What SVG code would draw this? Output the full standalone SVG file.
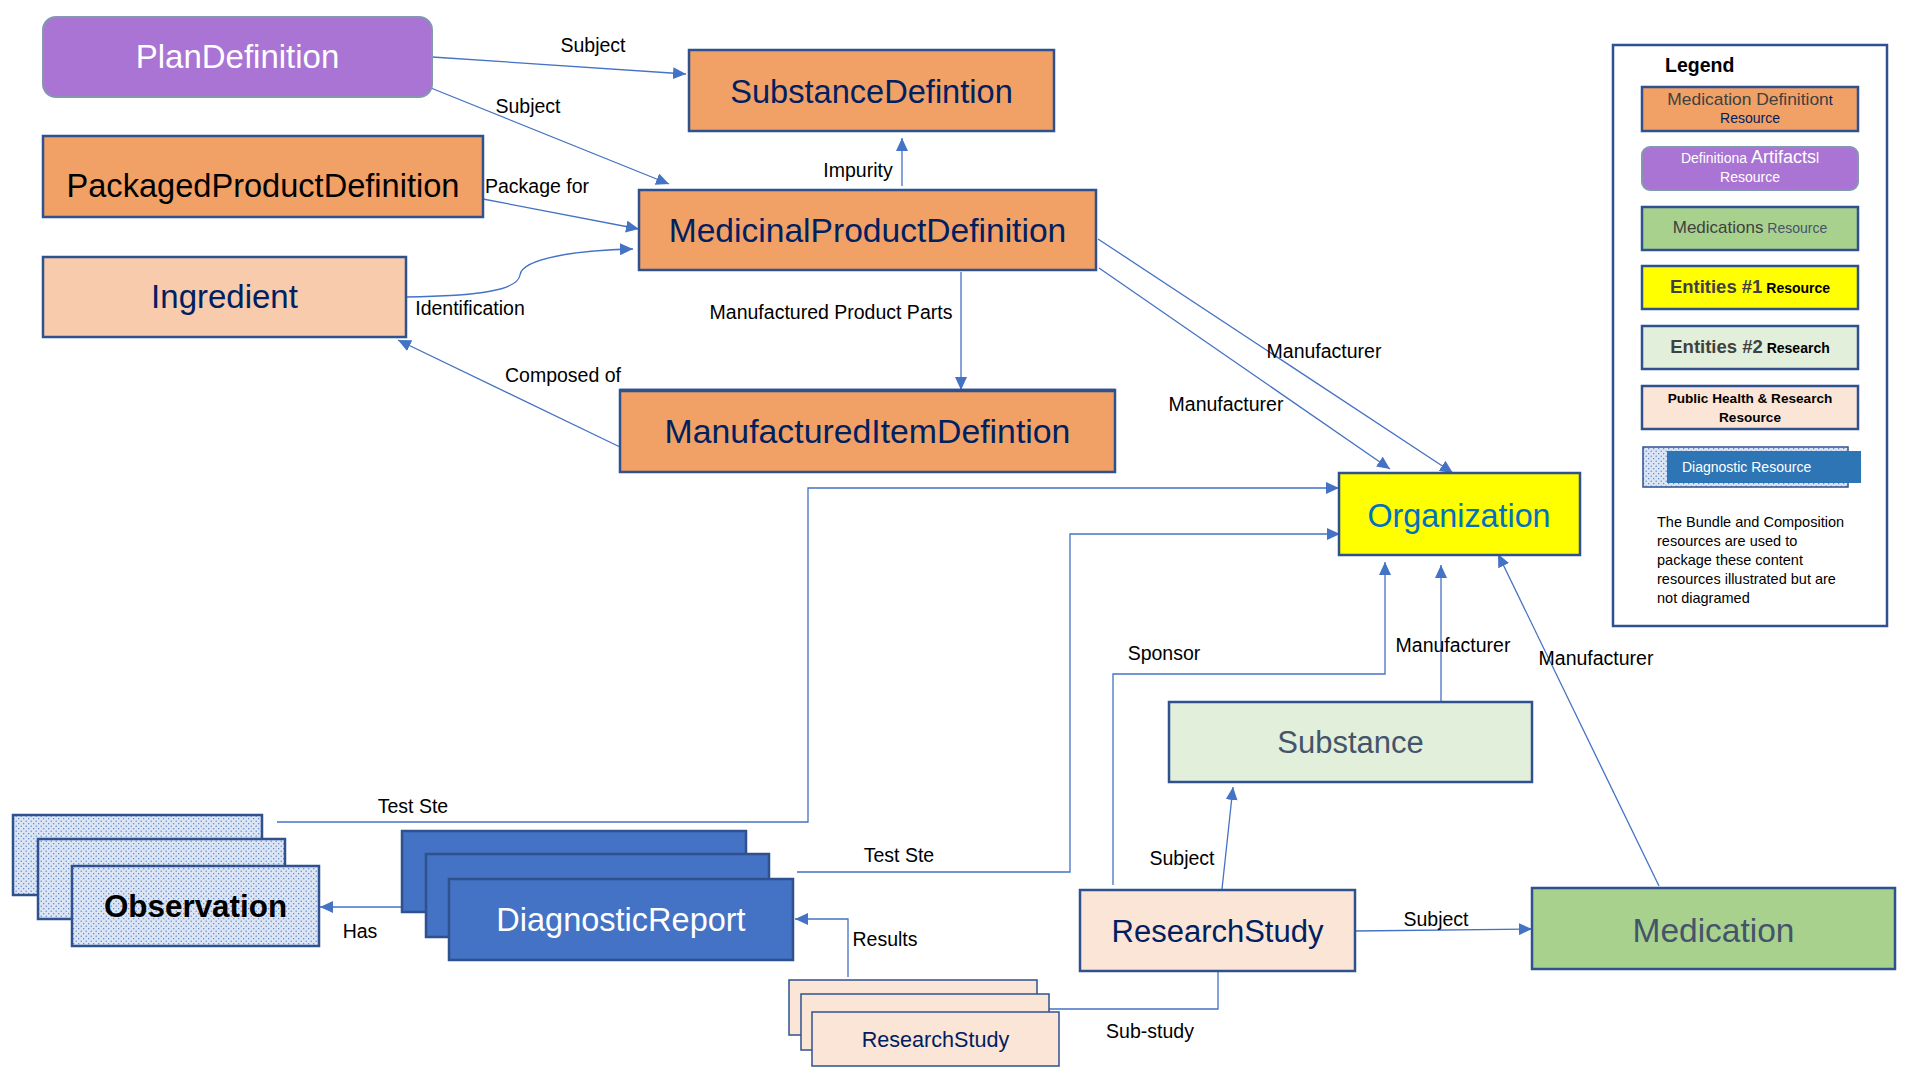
<svg xmlns="http://www.w3.org/2000/svg" width="1920" height="1080" viewBox="0 0 1920 1080">
<defs>
<marker id="arr" markerUnits="userSpaceOnUse" markerWidth="14" markerHeight="12" refX="13" refY="6" orient="auto">
<path d="M0,0 L13,6 L0,12 z" fill="#4472C4"/>
</marker>
<pattern id="dots" width="5" height="5" patternUnits="userSpaceOnUse">
<rect width="5" height="5" fill="#DCE5F4"/>
<circle cx="1.2" cy="1.2" r="0.65" fill="#4472C4"/>
<circle cx="3.7" cy="3.7" r="0.65" fill="#4472C4"/>
</pattern>
<style>
.box{stroke:#2F528F;stroke-width:2.5}
.node{font-family:"Liberation Sans",Arial,sans-serif;text-anchor:middle}
.lbl{font-family:"Liberation Sans",Arial,sans-serif;font-size:19.5px;fill:#000;text-anchor:middle}
.con{fill:none;stroke:#4472C4;stroke-width:1.3}
.lg{font-family:"Liberation Sans",Arial,sans-serif;text-anchor:middle}
</style>
</defs>
<rect width="1920" height="1080" fill="#FFFFFF"/>

<g id="connectors">
<path class="con" d="M432,57 L686,74" marker-end="url(#arr)"/>
<path class="con" d="M421,84 L669,184" marker-end="url(#arr)"/>
<path class="con" d="M483,199 L639,229" marker-end="url(#arr)"/>
<path class="con" d="M406,297 C480,296 518,290 520,275 C522,258 580,250 633,249" marker-end="url(#arr)"/>
<path class="con" d="M620,447 L398,340" marker-end="url(#arr)"/>
<path class="con" d="M902,186 L902,138" marker-end="url(#arr)"/>
<path class="con" d="M961,272 L961,390" marker-end="url(#arr)"/>
<path class="con" d="M1098,239 L1453,473" marker-end="url(#arr)"/>
<path class="con" d="M1099,268 L1390,469" marker-end="url(#arr)"/>
<path class="con" d="M277,822 H808 V488 H1339" marker-end="url(#arr)"/>
<path class="con" d="M797,872 H1070 V534 H1340" marker-end="url(#arr)"/>
<path class="con" d="M1113,885 V674 H1385 V562" marker-end="url(#arr)"/>
<path class="con" d="M1441,701 V565" marker-end="url(#arr)"/>
<path class="con" d="M1659,886 L1498,554" marker-end="url(#arr)"/>
<path class="con" d="M1222,889 L1233,787" marker-end="url(#arr)"/>
<path class="con" d="M1355,931 L1532,929" marker-end="url(#arr)"/>
<path class="con" d="M402,907 L320,907" marker-end="url(#arr)"/>
<path class="con" d="M848,977 V919 H795" marker-end="url(#arr)"/>
<path class="con" d="M1218,971 V1009 H1049"/>
<text class="lbl" x="593" y="52">Subject</text>
<text class="lbl" x="528" y="113">Subject</text>
<text class="lbl" x="537" y="193">Package for</text>
<text class="lbl" x="858" y="177">Impurity</text>
<text class="lbl" x="470" y="315">Identification</text>
<text class="lbl" x="831" y="319">Manufactured Product Parts</text>
<text class="lbl" x="563" y="382">Composed of</text>
<text class="lbl" x="1324" y="358">Manufacturer</text>
<text class="lbl" x="1226" y="411">Manufacturer</text>
<text class="lbl" x="1164" y="660">Sponsor</text>
<text class="lbl" x="1453" y="652">Manufacturer</text>
<text class="lbl" x="1596" y="665">Manufacturer</text>
<text class="lbl" x="413" y="813">Test Ste</text>
<text class="lbl" x="899" y="862">Test Ste</text>
<text class="lbl" x="1182" y="865">Subject</text>
<text class="lbl" x="1436" y="926">Subject</text>
<text class="lbl" x="360" y="938">Has</text>
<text class="lbl" x="885" y="946">Results</text>
<text class="lbl" x="1150" y="1038">Sub-study</text>
</g>

<g id="PlanDefinition">
<rect x="43" y="17" width="389" height="80" rx="13" fill="#A974D4" stroke="#8497B0" stroke-width="2"/>
<text class="node" x="237.5" y="68" font-size="33" fill="#FFFFFF">PlanDefinition</text>
</g>
<g id="PackagedProductDefinition">
<rect class="box" x="43" y="136" width="440" height="81" fill="#F1A066"/>
<text class="node" x="263" y="197" font-size="32.6" fill="#000000">PackagedProductDefinition</text>
</g>
<g id="Ingredient">
<rect class="box" x="43" y="257" width="363" height="80" fill="#F8CBAD"/>
<text class="node" x="224.5" y="308" font-size="33" fill="#002060">Ingredient</text>
</g>
<g id="SubstanceDefintion">
<rect class="box" x="689" y="50" width="365" height="81" fill="#F1A066"/>
<text class="node" x="871.5" y="103" font-size="32.6" fill="#002060">SubstanceDefintion</text>
</g>
<g id="MedicinalProductDefinition">
<rect class="box" x="639" y="190" width="457" height="80" fill="#F1A066"/>
<text class="node" x="867.5" y="242" font-size="33.6" fill="#002060">MedicinalProductDefinition</text>
</g>
<g id="ManufacturedItemDefintion">
<rect class="box" x="620" y="390" width="495" height="82" fill="#F1A066"/>
<line x1="620" y1="390.5" x2="1115" y2="390.5" stroke="#2F528F" stroke-width="3.5"/>
<text class="node" x="867.5" y="443" font-size="33.8" fill="#002060">ManufacturedItemDefintion</text>
</g>
<g id="Organization">
<rect class="box" x="1339" y="473" width="241" height="82" fill="#FFFF00"/>
<text class="node" x="1459" y="527" font-size="32.3" fill="#0070C0">Organization</text>
</g>
<g id="Substance">
<rect class="box" x="1169" y="702" width="363" height="80" fill="#E2EFDA"/>
<text class="node" x="1350.5" y="753" font-size="31" fill="#44546A">Substance</text>
</g>
<g id="Medication">
<rect class="box" x="1532" y="888" width="363" height="81" fill="#A9D18E"/>
<text class="node" x="1713.5" y="942" font-size="33.5" fill="#44546A">Medication</text>
</g>
<g id="ResearchStudy">
<rect class="box" x="1080" y="890" width="275" height="81" fill="#FBE5D6"/>
<text class="node" x="1217.5" y="942" font-size="31" fill="#002060">ResearchStudy</text>
</g>
<g id="ResearchStudyStack">
<rect x="789" y="980" width="248" height="55" fill="#FBE5D6" stroke="#2F528F" stroke-width="1.5"/>
<rect x="801" y="994" width="248" height="56" fill="#FBE5D6" stroke="#2F528F" stroke-width="1.5"/>
<rect x="812" y="1012" width="247" height="54" fill="#FBE5D6" stroke="#2F528F" stroke-width="1.5"/>
<text class="node" x="935.5" y="1047" font-size="21.6" fill="#002060">ResearchStudy</text>
</g>
<g id="DiagnosticReport">
<rect class="box" x="402" y="831" width="344" height="81" fill="#4472C4"/>
<rect class="box" x="426" y="854" width="343" height="83" fill="#4472C4"/>
<rect class="box" x="449" y="879" width="344" height="81" fill="#4472C4"/>
<text class="node" x="621" y="931" font-size="32.5" fill="#FFFFFF">DiagnosticReport</text>
</g>
<g id="Observation">
<rect class="box" x="13" y="815" width="249" height="80" fill="url(#dots)"/>
<rect class="box" x="38" y="839" width="247" height="80" fill="url(#dots)"/>
<rect class="box" x="72" y="866" width="247" height="80" fill="url(#dots)"/>
<text class="node" x="195.5" y="917" font-size="31.4" font-weight="bold" fill="#000000">Observation</text>
</g>

<g id="Legend">
<rect x="1613" y="45" width="274" height="581" fill="#FFFFFF" stroke="#2F528F" stroke-width="2.5"/>
<text x="1665" y="72" font-family="Liberation Sans,Arial,sans-serif" font-size="19.5" font-weight="bold" fill="#000">Legend</text>
<rect class="box" x="1642" y="87" width="216" height="44" fill="#F1A066"/>
<text class="lg" x="1750" y="105" font-size="17.4" fill="#404040">Medication Definition<tspan font-size="14" fill="#002060">t</tspan></text>
<text class="lg" x="1750" y="123" font-size="14" fill="#002060">Resource</text>
<rect x="1642" y="147" width="216" height="43" rx="8" fill="#A974D4" stroke="#8497B0" stroke-width="2"/>
<text class="lg" x="1750" y="163" font-size="14" fill="#FFFFFF">Definitiona <tspan font-size="18">Artifacts</tspan>l</text>
<text class="lg" x="1750" y="182" font-size="14" fill="#FFFFFF">Resource</text>
<rect class="box" x="1642" y="207" width="216" height="43" fill="#A9D18E"/>
<text class="lg" x="1750" y="233" font-size="17" fill="#404040">Medications<tspan font-size="14" fill="#44546A"> Resource</tspan></text>
<rect class="box" x="1642" y="266" width="216" height="43" fill="#FFFF00"/>
<text class="lg" x="1750" y="293" font-size="18.5" font-weight="bold" fill="#404040">Entities #1<tspan font-size="14" fill="#000000"> Resource</tspan></text>
<rect class="box" x="1642" y="326" width="216" height="43" fill="#E2EFDA"/>
<text class="lg" x="1750" y="353" font-size="18.5" font-weight="bold" fill="#404040">Entities #2<tspan font-size="14" fill="#000000"> Research</tspan></text>
<rect class="box" x="1642" y="386" width="216" height="43" fill="#FBE5D6"/>
<text class="lg" x="1750" y="403" font-size="13.6" font-weight="bold" fill="#000000">Public Health &amp; Research</text>
<text class="lg" x="1750" y="422" font-size="13.6" font-weight="bold" fill="#000000">Resource</text>
<rect x="1643" y="447" width="205" height="40" fill="url(#dots)" stroke="#2F528F" stroke-width="1.5"/>
<rect x="1667" y="451" width="194" height="32" fill="#2E75B6"/>
<text x="1682" y="472" font-family="Liberation Sans,Arial,sans-serif" font-size="14" fill="#FFFFFF">Diagnostic Resource</text>
<g font-family="Liberation Sans,Arial,sans-serif" font-size="14.5" fill="#000000">
<text x="1657" y="527">The Bundle and Composition</text>
<text x="1657" y="546">resources are used to</text>
<text x="1657" y="565">package these content</text>
<text x="1657" y="584">resources illustrated but are</text>
<text x="1657" y="603">not diagramed</text>
</g>
</g>
</svg>
